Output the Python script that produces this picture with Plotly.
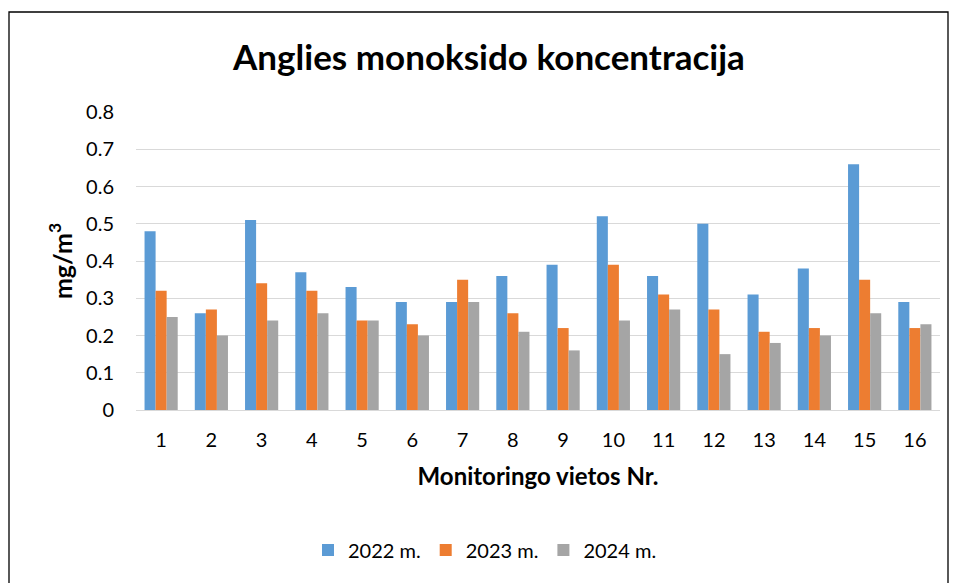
import plotly.graph_objects as go

categories = [str(i) for i in range(1, 17)]
v2022 = [0.48, 0.26, 0.51, 0.37, 0.33, 0.29, 0.29, 0.36, 0.39, 0.52, 0.36, 0.50, 0.31, 0.38, 0.66, 0.29]
v2023 = [0.32, 0.27, 0.34, 0.32, 0.24, 0.23, 0.35, 0.26, 0.22, 0.39, 0.31, 0.27, 0.21, 0.22, 0.35, 0.22]
v2024 = [0.25, 0.20, 0.24, 0.26, 0.24, 0.20, 0.29, 0.21, 0.16, 0.24, 0.27, 0.15, 0.18, 0.20, 0.26, 0.23]
series_names = ["2022 m.", "2023 m.", "2024 m."]
colors = ["#5B9BD5", "#ED7D31", "#A5A5A5"]
y_ticks = [0, 0.1, 0.2, 0.3, 0.4, 0.5, 0.6, 0.7, 0.8]
y_tick_text = ["0", "0.1", "0.2", "0.3", "0.4", "0.5", "0.6", "0.7", "0.8"]

# page body margin offset (browser default 8px)
OFF = 8
W, H = 957, 583
L, T = 136 - OFF, 112 - OFF
R = W - (940 - OFF)
B = H - (410 - OFF)
pw, ph = W - L - R, H - T - B

def px_x(p):
    return (p - OFF - L) / pw

def px_y(p):
    return (H - B - (p - OFF)) / ph

fig = go.Figure()
for name, vals, c in zip(series_names, [v2022, v2023, v2024], colors):
    fig.add_trace(go.Bar(x=categories, y=vals, name=name, marker=dict(color=c, line=dict(width=0))))

font = "Lato, 'Open Sans', sans-serif"
fig.update_layout(
    width=W, height=H,
    margin=dict(l=L, r=R, t=T, b=B),
    paper_bgcolor="white", plot_bgcolor="white",
    barmode="group", bargap=0.34, bargroupgap=0,
    font=dict(family=font, color="#000000", size=20),
    title=dict(text="<b>Anglies monoksido koncentracija</b>", x=(489 - OFF) / W, xanchor="center",
               y=1 - (58 - OFF) / H, yanchor="middle", font=dict(size=35, family=font)),
    xaxis=dict(showgrid=False, showline=False, ticks="", tickfont=dict(size=20),
               ticklabelstandoff=16,
               title=dict(text="<b>Monitoringo vietos Nr.</b>", font=dict(size=24), standoff=18)),
    yaxis=dict(range=[0, 0.8], tickvals=y_ticks, ticktext=y_tick_text,
               showgrid=True, gridcolor="#D9D9D9", gridwidth=1.3, zeroline=True, zerolinecolor="#D9D9D9",
               zerolinewidth=1.3, showline=False, ticks="", tickfont=dict(size=20),
               ticklabelstandoff=21,
               title=dict(text="<b>mg/m<sup>3</sup></b>", font=dict(size=25), standoff=6)),
    legend=dict(orientation="h", x=px_x(485), xanchor="center", y=px_y(550), yanchor="middle",
                font=dict(size=20), traceorder="normal"),
    shapes=[dict(type="rect", xref="paper", yref="paper",
                 x0=px_x(9), x1=px_x(948), y0=px_y(600), y1=px_y(12),
                 line=dict(color="#000000", width=1.3), fillcolor="rgba(0,0,0,0)", layer="below")],
)

fig.write_html("out.html")
